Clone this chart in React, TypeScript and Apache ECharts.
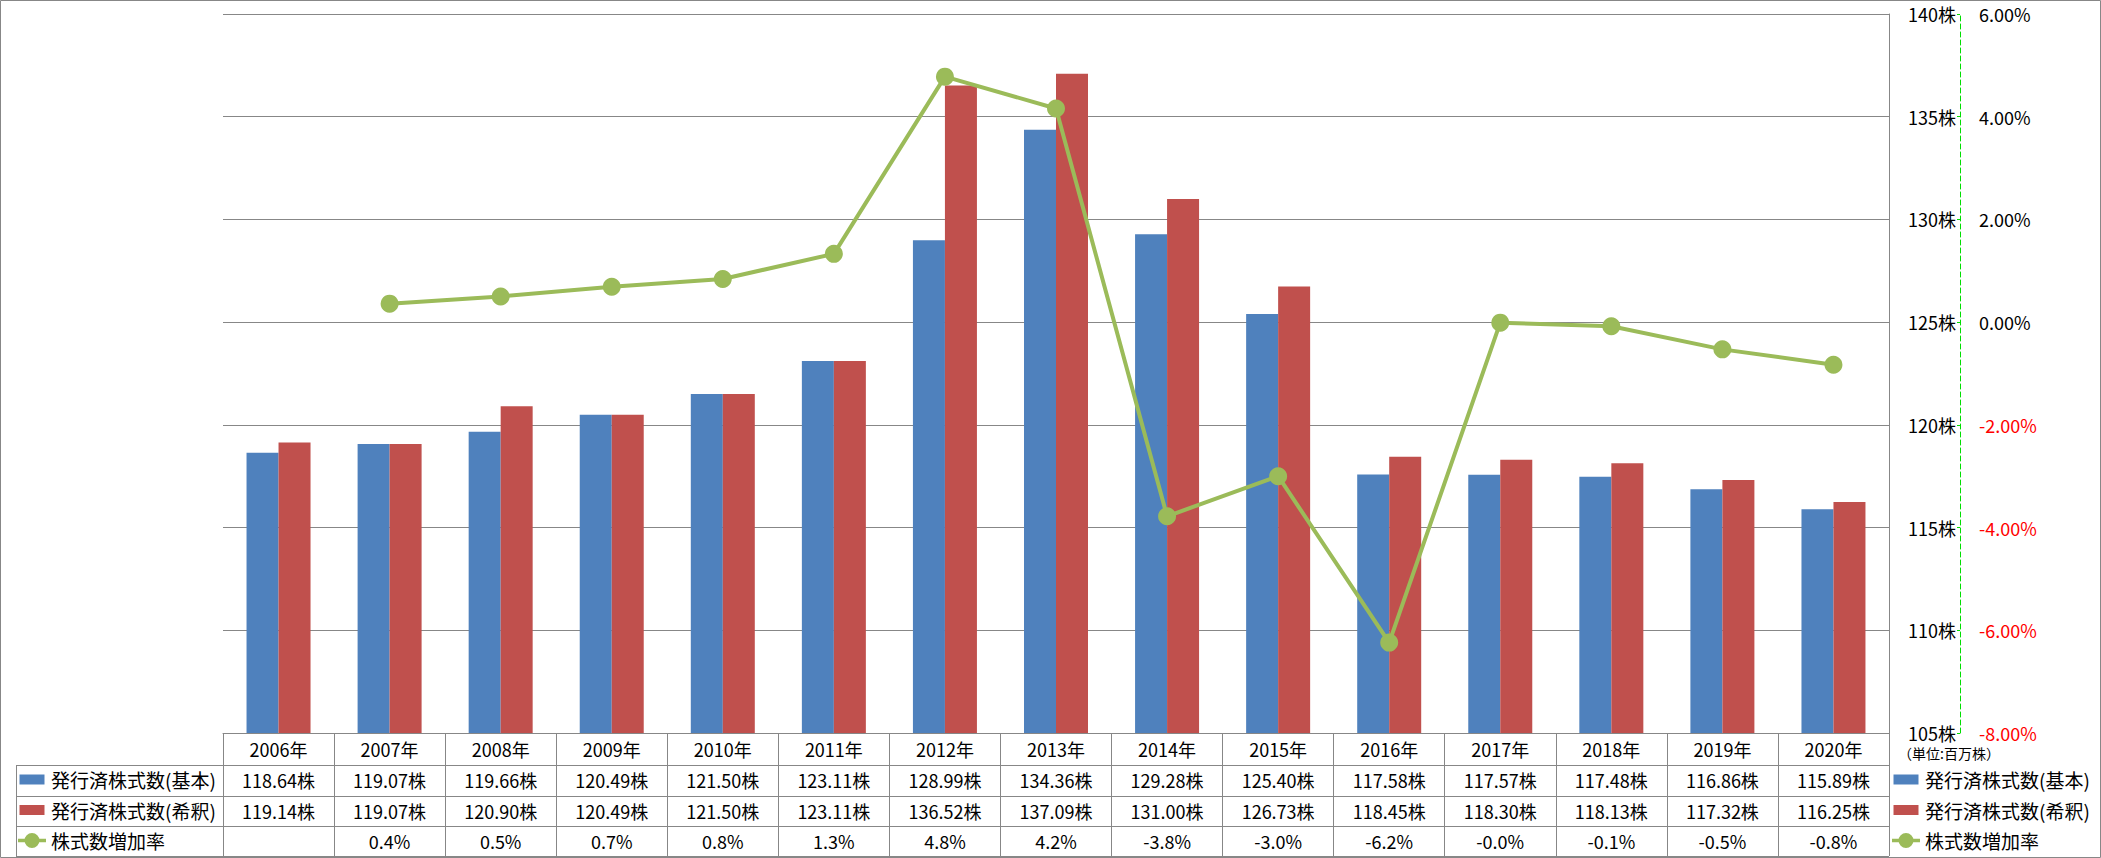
import React, { useEffect, useRef } from 'react';
import * as echarts from 'echarts';

const years = ['2006年', '2007年', '2008年', '2009年', '2010年', '2011年', '2012年', '2013年', '2014年', '2015年', '2016年', '2017年', '2018年', '2019年', '2020年'];
const basic = [118.64, 119.07, 119.66, 120.49, 121.5, 123.11, 128.99, 134.36, 129.28, 125.4, 117.58, 117.57, 117.48, 116.86, 115.89];
const diluted = [119.14, 119.07, 120.9, 120.49, 121.5, 123.11, 136.52, 137.09, 131.0, 126.73, 118.45, 118.3, 118.13, 117.32, 116.25];
const rate: (number | null)[] = [null, 0.36, 0.5, 0.69, 0.84, 1.33, 4.78, 4.16, -3.78, -3.0, -6.24, -0.01, -0.08, -0.53, -0.83];

const seriesNames = ['発行済株式数(基本)', '発行済株式数(希釈)', '株式数増加率'];
const unitLabel = '（単位:百万株）';

const FONT = '"Noto Sans CJK JP", "Noto Sans", sans-serif';
const GRAY = '#878787';

// legend icons (bounding box 28 x 16 forced by move-to points)
const RECT_ICON = 'path://M0,0M28,16M1.5,3h25v10h-25z';
const LINE_ICON =
  'path://M0,0M28,16M0,6.2h7v3.6h-7zM21,6.2h7v3.6h-7zM6.5,8a7.5,7.5 0 1,1 15,0a7.5,7.5 0 1,1 -15,0z';

export default function App() {
  const ref = useRef<HTMLDivElement>(null);
  useEffect(() => {
    const chart = echarts.init(ref.current!, null, { renderer: 'svg' });
    const gridLeft = 223;
    const gridRight = 1889;
    const gridTop = 14;
    const gridBottom = 733;
    const rowLines = [765, 796, 826, 856];

    const labelBase = { interval: 0, fontSize: 18, lineHeight: 18, color: '#000', fontFamily: FONT };
    const tableAxis = (margin: number, fmt: (v: string, i: number) => string) => ({
      type: 'category',
      data: years,
      position: 'bottom',
      axisLine: { show: false, onZero: false },
      axisTick: { show: false },
      splitLine: { show: false },
      axisLabel: { ...labelBase, margin, formatter: fmt },
    });

    const legendBase = {
      orient: 'vertical',
      padding: 0,
      itemWidth: 28,
      itemHeight: 16,
      itemGap: 10.5,
      height: 84,
      selectedMode: false,
      textStyle: { fontSize: 19, lineHeight: 20, color: '#000', fontFamily: FONT },
      data: [
        { name: seriesNames[0], icon: RECT_ICON },
        { name: seriesNames[1], icon: RECT_ICON },
        { name: seriesNames[2], icon: LINE_ICON },
      ],
    };

    const graphics: any[] = [
      {
        type: 'rect',
        shape: { x: 0.5, y: 0.5, width: 2100, height: 857 },
        style: { fill: 'none', stroke: GRAY, lineWidth: 1 },
        silent: true,
      },
      {
        type: 'line',
        shape: { x1: 16.5, y1: rowLines[0], x2: 16.5, y2: rowLines[3] },
        style: { stroke: GRAY, lineWidth: 1 },
      },
      ...rowLines.map((y) => ({
        type: 'line',
        shape: { x1: 16, y1: y + 0.5, x2: gridRight, y2: y + 0.5 },
        style: { stroke: GRAY, lineWidth: 1 },
      })),
      {
        type: 'text',
        x: 1898,
        y: 753,
        style: { text: unitLabel, fontSize: 14, fontFamily: FONT, fill: '#000', verticalAlign: 'middle' },
      },
    ];

    const option: any = {
      animation: false,
      textStyle: { fontFamily: FONT },
      grid: { left: gridLeft, top: gridTop, width: gridRight - gridLeft, height: gridBottom - gridTop, containLabel: false },
      legend: [
        { ...legendBase, left: 18, top: 769.5 },
        { ...legendBase, left: 1892, top: 769.5 },
      ],
      xAxis: [
        {
          type: 'category',
          data: years,
          position: 'bottom',
          axisLine: { show: true, onZero: false, lineStyle: { color: GRAY, width: 1 } },
          axisTick: { show: true, length: 123, interval: 0, lineStyle: { color: GRAY, width: 1 } },
          splitLine: { show: false },
          axisLabel: { ...labelBase, margin: 7 },
        },
        tableAxis(38, (_v, i) => basic[i].toFixed(2) + '株'),
        tableAxis(69, (_v, i) => diluted[i].toFixed(2) + '株'),
        tableAxis(99, (_v, i) => (rate[i] == null ? '' : (rate[i] as number).toFixed(1) + '%')),
      ],
      yAxis: [
        {
          type: 'value',
          min: 105,
          max: 140,
          interval: 5,
          position: 'right',
          axisLine: { show: true, onZero: false, lineStyle: { color: GRAY, width: 1 } },
          axisTick: { show: false },
          splitLine: { show: true, lineStyle: { color: GRAY, width: 1 } },
          axisLabel: { fontSize: 18, color: '#000', fontFamily: FONT, margin: 19, formatter: '{value}株' },
        },
        {
          type: 'value',
          min: -8,
          max: 6,
          interval: 2,
          position: 'right',
          offset: 71,
          axisLine: { show: true, onZero: false, lineStyle: { color: '#00dd00', width: 1, type: [5, 3] } },
          axisTick: { show: true, inside: true, length: 3, lineStyle: { color: '#00dd00', width: 1 } },
          splitLine: { show: false },
          axisLabel: {
            fontSize: 18,
            fontFamily: FONT,
            margin: 19,
            formatter: (v: number) => v.toFixed(2) + '%',
            color: (v: any) => (Number(v) < 0 ? '#ff0000' : '#000000'),
          },
        },
      ],
      series: [
        {
          name: seriesNames[0],
          type: 'bar',
          data: basic,
          barWidth: 32,
          barGap: '0%',
          itemStyle: { color: '#4F81BD' },
          yAxisIndex: 0,
        },
        {
          name: seriesNames[1],
          type: 'bar',
          data: diluted,
          barWidth: 32,
          barGap: '0%',
          itemStyle: { color: '#C0504D' },
          yAxisIndex: 0,
        },
        {
          name: seriesNames[2],
          type: 'line',
          data: rate,
          yAxisIndex: 1,
          symbol: 'circle',
          symbolSize: 18,
          lineStyle: { color: '#9BBB59', width: 4 },
          itemStyle: { color: '#9BBB59' },
          z: 5,
        },
      ],
      graphic: graphics,
    };
    chart.setOption(option);
    return () => chart.dispose();
  }, []);
  return <div ref={ref} style={{ position: 'absolute', left: 0, top: 0, width: 2101, height: 858, background: '#fff' }} />;
}
